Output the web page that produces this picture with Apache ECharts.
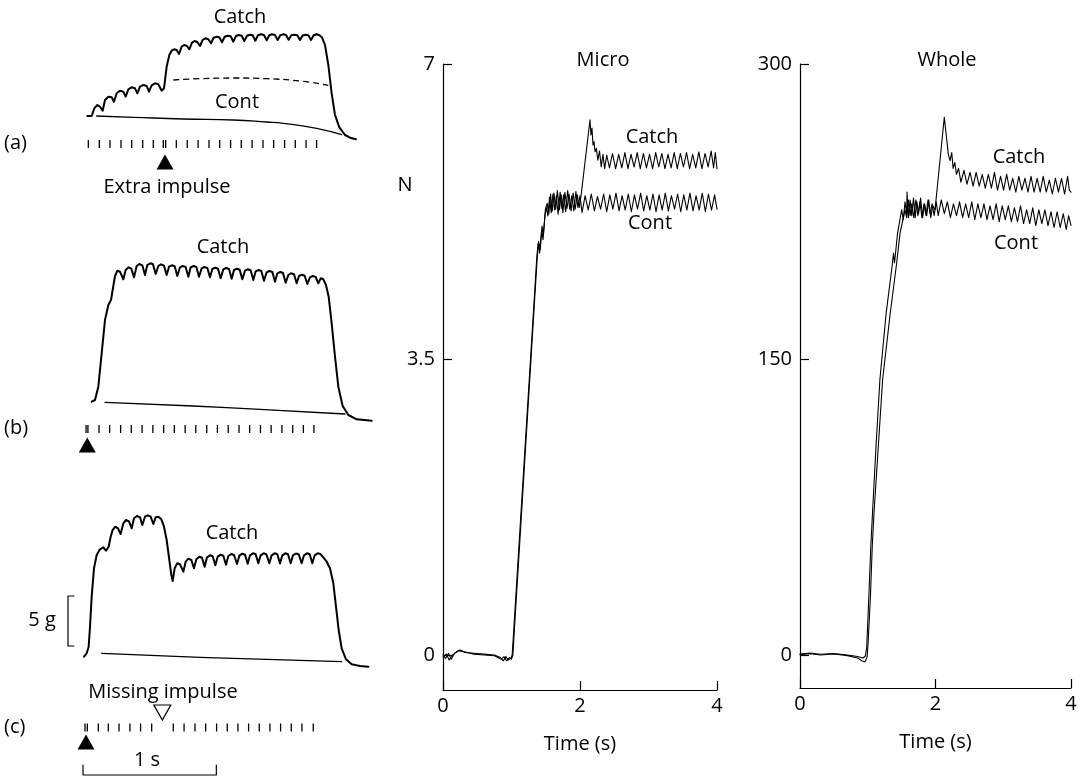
<!DOCTYPE html>
<html>
<head>
<meta charset="utf-8">
<script src="https://cdn.jsdelivr.net/npm/echarts@6/dist/echarts.min.js"></script>
<style>
html,body{margin:0;padding:0;background:#fff}
#chart{width:1088px;height:777px}
</style>
</head>
<body>
<div id="chart"></div>
<script>
// ---------- Left column: schematic twitch-train records (time in ms, force in g) ----------
const catchA = [[-7.5,4.40],[25,4.40],[45,5.17],[67.5,5.50],[87.5,5.33],[107.5,4.93],[125,6.00],[150,6.33],[175,6.27],[192.5,5.83],[212.5,6.67],[237.5,6.93],[262.5,6.83],[280,6.33],[300,7.07],[325,7.27],[350,7.17],[367.5,6.67],[387.5,7.33],[412.5,7.50],[437.5,7.40],[455,6.83],[475,7.47],[500,7.67],[525,7.57],[550,6.93],[567.5,7.17],[587.5,9.33],[607.5,10.50],[625,10.93],[642.5,11.07],[662.5,11.00],[680,10.60],[700,11.33],[720,11.50],[740,11.40],[757.5,11.07],[777.5,11.73],[797.5,11.90],[817.5,11.80],[837.5,11.40],[857.5,12.00],[877.5,12.17],[900,12.07],[920,11.67],[940,12.23],[962.5,12.33],[982.5,12.27],[1002.5,11.77],[1022.5,12.33],[1045,12.43],[1067.5,12.37],[1087.5,11.83],[1107.5,12.40],[1127.5,12.50],[1150,12.43],[1170,11.90],[1190,12.43],[1212.5,12.53],[1232.5,12.47],[1252.5,11.93],[1272.5,12.47],[1295,12.57],[1317.5,12.50],[1337.5,11.97],[1357.5,12.47],[1377.5,12.57],[1400,12.50],[1420,12.00],[1440,12.47],[1462.5,12.57],[1482.5,12.50],[1502.5,12.02],[1522.5,12.47],[1545,12.53],[1567.5,12.47],[1587.5,12.00],[1607.5,12.45],[1627.5,12.53],[1650,12.47],[1670,12.00],[1690,12.47],[1712.5,12.57],[1732.5,12.47],[1752.5,12.27],[1775,11.50],[1800,9.50],[1825,6.67],[1850,4.50],[1882.5,3.27],[1925,2.50],[1962.5,2.23],[2007.5,2.07]];
const baseA = [[637.5,8.00],[837.5,8.13],[1087.5,8.20],[1337.5,8.13],[1587.5,7.90],[1800,7.47]];
const contA = [[62.5,4.40],[337.5,4.27],[712.5,4.10],[1087.5,4.00],[1337.5,3.80],[1462.5,3.67],[1712.5,3.17],[1900,2.53]];
const pulsesA = [0,82.5,162.5,245,325,407.5,487.5,562.5,580,660,742,823,905,985,1067,1147,1228,1310,1390,1472,1552,1633,1712];
const extraA = [575];

const catchB = [[25,2.83],[50,3.00],[75,4.33],[100,7.67],[125,11.00],[150,12.50],[170,13.00],[182.5,14.00],[200,15.40],[217.5,15.93],[237.5,15.83],[262.5,15.07],[280,16.00],[302.5,16.27],[322.5,16.13],[342.5,15.27],[362.5,16.40],[382.5,16.60],[405,16.47],[425,15.50],[442.5,16.50],[465,16.67],[485,16.57],[505,15.60],[525,16.40],[545,16.57],[567.5,16.43],[587.5,15.50],[605,16.33],[627.5,16.47],[647.5,16.37],[667.5,15.40],[687.5,16.27],[707.5,16.40],[730,16.30],[750,15.33],[767.5,16.27],[790,16.40],[810,16.30],[830,15.33],[850,16.17],[870,16.30],[892.5,16.20],[912.5,15.27],[930,16.10],[952.5,16.23],[972.5,16.13],[992.5,15.17],[1012.5,16.07],[1032.5,16.20],[1055,16.10],[1075,15.13],[1092.5,16.00],[1115,16.13],[1135,16.03],[1155,15.07],[1175,15.93],[1195,16.07],[1217.5,15.97],[1237.5,15.00],[1255,15.87],[1277.5,16.00],[1297.5,15.90],[1317.5,14.93],[1337.5,15.77],[1357.5,15.90],[1380,15.80],[1400,14.83],[1417.5,15.67],[1440,15.80],[1460,15.70],[1480,14.73],[1500,15.50],[1520,15.67],[1542.5,15.57],[1562.5,14.67],[1580,15.40],[1602.5,15.53],[1622.5,15.43],[1642.5,14.60],[1662.5,15.27],[1682.5,15.40],[1705,15.30],[1725,14.67],[1742.5,15.17],[1762.5,15.07],[1782.5,14.50],[1802.5,13.33],[1825,10.67],[1850,7.33],[1875,4.33],[1907.5,2.40],[1950,1.50],[2012.5,1.07],[2125,0.93]];
const contB = [[125,2.77],[787.5,2.40],[1287.5,2.07],[1925,1.60]];
const pulsesB = [-17,-3,80,160,242,322,403,484,565,645,726,806,888,968,1049,1130,1210,1291,1371,1452,1533,1613,1692];
const doubletB = [-8];

const catchC = [[-32.5,2.33],[-12.5,2.67],[2.5,3.33],[12.5,5.33],[25,8.33],[42.5,11.17],[62.5,12.50],[87.5,13.07],[112.5,13.27],[132.5,12.93],[152.5,13.33],[167.5,14.33],[182.5,15.00],[202.5,15.33],[222.5,15.17],[242.5,14.60],[262.5,15.67],[282.5,16.00],[305,15.87],[325,15.17],[342.5,16.17],[365,16.40],[387.5,16.27],[405,15.50],[425,16.33],[445,16.47],[467.5,16.33],[487.5,15.60],[505,16.27],[525,16.33],[547.5,16.07],[567.5,15.33],[587.5,14.00],[607.5,12.00],[622.5,10.50],[632.5,9.90],[647.5,11.17],[667.5,11.67],[687.5,11.57],[712.5,10.83],[730,11.83],[750,12.13],[772.5,12.00],[792.5,11.17],[810,12.07],[832.5,12.33],[852.5,12.23],[872.5,11.33],[890,12.27],[912.5,12.47],[932.5,12.37],[952.5,11.47],[970,12.33],[992.5,12.53],[1012.5,12.43],[1032.5,11.53],[1050,12.40],[1072.5,12.60],[1092.5,12.50],[1115,11.60],[1132.5,12.43],[1155,12.63],[1175,12.53],[1195,11.63],[1212.5,12.47],[1235,12.67],[1255,12.57],[1275,11.67],[1292.5,12.47],[1315,12.67],[1335,12.57],[1357.5,11.67],[1375,12.47],[1397.5,12.67],[1417.5,12.57],[1437.5,11.65],[1455,12.47],[1477.5,12.67],[1497.5,12.57],[1517.5,11.67],[1535,12.47],[1557.5,12.65],[1577.5,12.57],[1600,11.67],[1617.5,12.47],[1640,12.67],[1660,12.57],[1680,11.67],[1697.5,12.47],[1720,12.67],[1740,12.60],[1762.5,12.27],[1787.5,11.83],[1812.5,11.17],[1837.5,9.67],[1857.5,7.33],[1877.5,5.00],[1900,3.17],[1932.5,2.07],[1975,1.57],[2037.5,1.40],[2100,1.33]];
const contC = [[100,2.67],[837.5,2.27],[1900,1.83]];
const pulsesC = [-25,-7.5,75,150,230,312,392,475,637,718,800,880,962,1042,1122,1202,1282,1362,1442,1522,1602,1687];
const doubletC = [-17.5];
const missingC = [555];

// calibration bars: 5 g and 1 s
const bar5g = [[-107.5,8.4],[-152.5,8.4],[-152.5,3.4],[-107.5,3.4]];
const bar1s = [[-40,-8.5],[-40,-9.5],[960,-9.5],[960,-8.5]];

// ---------- Right column: measured force (time in s) ----------
const microTicks = [0, 3.5, 7];
const wholeTicks = [0, 150, 300];
const timeTicks = [0, 2, 4];

const microCont = [[0.00,0.00],[0.04,-0.04],[0.08,0.02],[0.12,-0.05],[0.17,0.02],[0.25,0.06],[0.32,0.03],[0.45,0.02],[0.60,0.01],[0.75,0.00],[0.84,-0.03],[0.88,-0.07],[0.92,-0.02],[0.95,-0.06],[0.99,-0.04],[1.01,0.00],[1.37,4.72],[1.39,4.88],[1.41,4.76],[1.44,5.03],[1.46,4.92],[1.49,5.22],[1.51,5.30],[1.53,5.20],[1.555,5.42],[1.58,5.24],[1.605,5.46],[1.63,5.27],[1.655,5.44],[1.68,5.22],[1.71,5.48],[1.735,5.29],[1.76,5.45],[1.79,5.25],[1.82,5.50],[1.85,5.28],[1.88,5.44],[1.91,5.26],[1.94,5.49],[1.97,5.30],[2.00,5.44],[2.03,5.24],[2.075,5.44],[2.12,5.27],[2.165,5.46],[2.21,5.26],[2.255,5.43],[2.30,5.28],[2.345,5.46],[2.39,5.25],[2.435,5.45],[2.48,5.28],[2.525,5.47],[2.57,5.26],[2.615,5.44],[2.66,5.27],[2.705,5.46],[2.75,5.25],[2.795,5.45],[2.84,5.28],[2.885,5.47],[2.93,5.26],[2.975,5.44],[3.02,5.27],[3.065,5.46],[3.11,5.25],[3.155,5.45],[3.20,5.27],[3.245,5.47],[3.29,5.26],[3.335,5.44],[3.38,5.28],[3.425,5.46],[3.47,5.25],[3.515,5.45],[3.56,5.27],[3.605,5.47],[3.65,5.26],[3.695,5.44],[3.74,5.27],[3.785,5.47],[3.83,5.25],[3.875,5.46],[3.92,5.27],[3.965,5.45],[4.00,5.28]];
const microCatch = [[0.00,-0.02],[0.05,0.01],[0.09,-0.06],[0.14,0.00],[0.22,0.05],[0.30,0.04],[0.45,0.01],[0.60,0.00],[0.75,-0.01],[0.85,-0.05],[0.89,-0.02],[0.93,-0.07],[0.97,-0.03],[1.00,-0.05],[1.02,0.00],[1.375,4.70],[1.395,4.90],[1.42,4.80],[1.445,5.08],[1.465,4.97],[1.495,5.28],[1.52,5.35],[1.545,5.22],[1.57,5.46],[1.595,5.26],[1.62,5.47],[1.645,5.28],[1.67,5.50],[1.70,5.27],[1.725,5.45],[1.75,5.24],[1.78,5.48],[1.81,5.29],[1.84,5.46],[1.87,5.26],[1.90,5.47],[1.93,5.28],[1.96,5.45],[1.99,5.30],[2.02,5.47],[2.146,6.34],[2.16,6.16],[2.175,6.24],[2.19,6.04],[2.205,6.08],[2.22,5.96],[2.24,6.00],[2.26,5.86],[2.285,5.97],[2.31,5.78],[2.335,5.93],[2.36,5.76],[2.39,5.92],[2.43,5.77],[2.475,5.94],[2.52,5.76],[2.565,5.93],[2.61,5.77],[2.655,5.95],[2.70,5.76],[2.745,5.93],[2.79,5.78],[2.835,5.95],[2.88,5.76],[2.925,5.94],[2.97,5.77],[3.015,5.93],[3.06,5.76],[3.105,5.95],[3.15,5.78],[3.195,5.94],[3.24,5.76],[3.285,5.93],[3.33,5.77],[3.375,5.95],[3.42,5.76],[3.465,5.94],[3.51,5.78],[3.555,5.95],[3.60,5.76],[3.645,5.93],[3.69,5.77],[3.735,5.96],[3.78,5.76],[3.825,5.94],[3.87,5.78],[3.915,5.97],[3.95,5.77],[3.975,5.95],[4.00,5.76]];

const wholeCatch = [[0.00,0.5],[0.15,1.0],[0.30,0.4],[0.50,0.8],[0.70,0.0],[0.85,-0.8],[0.93,-1.5],[0.965,-0.5],[0.985,4],[1.02,33],[1.045,55],[1.07,72],[1.122,106],[1.18,140],[1.27,173],[1.365,199],[1.38,204],[1.395,199],[1.44,214],[1.50,226],[1.525,221],[1.55,230],[1.575,224],[1.58,235],[1.60,222],[1.625,231],[1.65,223],[1.675,232],[1.70,222],[1.725,230],[1.75,224],[1.78,232],[1.81,222],[1.84,229],[1.87,223],[1.90,231],[1.93,222],[1.96,228],[1.993,226],[2.13,273],[2.19,254],[2.215,251],[2.24,255],[2.26,247],[2.285,250],[2.31,244],[2.34,247],[2.375,240],[2.42,246],[2.465,239],[2.51,245],[2.555,238],[2.60,245],[2.645,238],[2.69,244],[2.735,237],[2.78,244],[2.825,237],[2.87,245],[2.915,236],[2.96,243],[3.005,236],[3.05,244],[3.095,236],[3.14,242],[3.185,235],[3.23,243],[3.275,236],[3.32,242],[3.365,235],[3.41,243],[3.455,235],[3.50,242],[3.545,235],[3.59,243],[3.635,235],[3.68,241],[3.725,234],[3.77,242],[3.815,235],[3.86,242],[3.905,234],[3.95,243],[3.975,236],[4.00,235]];
const wholeCont = [[0.00,0.2],[0.15,0.6],[0.30,0.0],[0.50,0.5],[0.70,-0.3],[0.85,-1.5],[0.92,-3.0],[0.96,-3.5],[0.99,-1.0],[1.005,6],[1.04,30],[1.066,55],[1.092,72],[1.156,106],[1.22,140],[1.33,173],[1.427,199],[1.476,214],[1.55,226],[1.575,222],[1.60,231],[1.625,223],[1.65,229],[1.68,222],[1.71,231],[1.74,223],[1.77,230],[1.80,222],[1.83,229],[1.86,223],[1.89,231],[1.92,224],[1.95,229],[1.98,223],[2.01,230],[2.04,223],[2.085,231],[2.13,224],[2.175,230],[2.22,222],[2.265,229],[2.31,223],[2.355,230],[2.40,222],[2.445,229],[2.49,222],[2.535,230],[2.58,221],[2.625,229],[2.67,222],[2.715,229],[2.76,221],[2.805,228],[2.85,221],[2.895,229],[2.94,220],[2.985,228],[3.03,221],[3.075,228],[3.12,220],[3.165,227],[3.21,220],[3.255,228],[3.30,219],[3.345,226],[3.39,219],[3.435,227],[3.48,218],[3.525,226],[3.57,219],[3.615,226],[3.66,218],[3.705,225],[3.75,217],[3.795,225],[3.84,217],[3.885,224],[3.93,216],[3.965,223],[4.00,218]];

// ---------- layout ----------
const FONT = '"Open Sans", "Noto Sans", "DejaVu Sans", sans-serif';
const INK = '#000';

const leftBox = { left: 55, width: 340 };
const grids = [
  { ...leftBox, top: 10,    height: 150 },  // 0: (a) force
  { ...leftBox, top: 250,   height: 180 },  // 1: (b) force
  { ...leftBox, top: 500,   height: 280 },  // 2: (c) force + calibration
  { ...leftBox, top: 124,   height: 40 },   // 3: (a) stimulus train
  { ...leftBox, top: 409,   height: 40 },   // 4: (b) stimulus train
  { ...leftBox, top: 707.5, height: 40 },   // 5: (c) stimulus train
  { left: 443, top: 64, width: 274, height: 626 },  // 6: Micro
  { left: 800, top: 64, width: 271, height: 624 }   // 7: Whole
].map(g => Object.assign({ containLabel: false, outerBoundsMode: 'none' }, g));

const yRanges = [[0, 15], [0, 18], [-10, 18], [-1, 1], [-1, 1], [-1, 1]];

const hiddenX = i => ({ type: 'value', gridIndex: i, min: -250, max: 2300, show: false });
const hiddenY = i => ({ type: 'value', gridIndex: i, min: yRanges[i][0], max: yRanges[i][1], show: false });

const lineSty = { color: INK, width: 1.2 };
const labelSty = { color: INK, fontSize: 20, fontFamily: FONT };

function timeAxis(i) {
  return {
    type: 'value', gridIndex: i, min: 0, max: 4, interval: 2,
    axisLine: { show: true, onZero: false, lineStyle: lineSty },
    axisTick: { show: true, inside: true, length: 9, lineStyle: lineSty, customValues: timeTicks },
    axisLabel: Object.assign({ margin: 6, customValues: timeTicks }, labelSty),
    splitLine: { show: false },
    name: 'Time (s)', nameLocation: 'middle', nameGap: 44,
    nameTextStyle: labelSty
  };
}
function forceAxis(i, min, max, ticks) {
  return {
    type: 'value', gridIndex: i, min: min, max: max,
    axisLine: { show: true, onZero: false, lineStyle: lineSty },
    axisTick: { show: true, inside: true, length: 9, lineStyle: lineSty, customValues: ticks },
    axisLabel: Object.assign({ margin: 8, customValues: ticks, formatter: v => String(v) }, labelSty),
    splitLine: { show: false }
  };
}

const xAxes = [0, 1, 2, 3, 4, 5].map(hiddenX).concat([timeAxis(6), timeAxis(7)]);
const yAxes = [0, 1, 2, 3, 4, 5].map(hiddenY).concat([
  forceAxis(6, -0.415, 7, microTicks),
  forceAxis(7, -16.75, 300, wholeTicks)
]);

function trace(i, data, width, extra) {
  return Object.assign({
    type: 'line', xAxisIndex: i, yAxisIndex: i, data: data,
    symbol: 'none', showSymbol: false, silent: true, smooth: false,
    lineStyle: { color: INK, width: width, join: 'round', cap: 'round' }
  }, extra || {});
}
function pulses(i, times) {
  return {
    type: 'scatter', xAxisIndex: i, yAxisIndex: i, silent: true,
    symbol: 'rect', symbolSize: [1.3, 8], itemStyle: { color: INK, opacity: 1 },
    data: times.map(t => [t, 0])
  };
}
function marker(i, times, level, open) {
  return {
    type: 'scatter', xAxisIndex: i, yAxisIndex: i, silent: true,
    symbol: 'triangle', symbolSize: [17, 15], symbolRotate: open ? 180 : 0,
    itemStyle: open ? { color: '#fff', borderColor: INK, borderWidth: 1.2, opacity: 1 }
                    : { color: INK, opacity: 1 },
    data: times.map(t => [t, level])
  };
}

const series = [
  trace(0, catchA, 2),
  trace(0, baseA, 1.3, { smooth: true, lineStyle: { color: INK, width: 1.3, type: [6, 4] } }),
  trace(0, contA, 1.3, { smooth: true }),
  pulses(3, pulsesA),
  marker(3, extraA, -0.9, false),

  trace(1, catchB, 2),
  trace(1, contB, 1.3, { smooth: true }),
  pulses(4, pulsesB),
  marker(4, doubletB, -0.8, false),

  trace(2, catchC, 2),
  trace(2, contC, 1.3, { smooth: true }),
  trace(2, bar5g, 1.2),
  trace(2, bar1s, 1.2),
  pulses(5, pulsesC),
  marker(5, doubletC, -0.725, false),
  marker(5, missingC, 0.75, true),

  trace(6, microCont, 1.1),
  trace(6, microCatch, 1.1),
  trace(7, wholeCont, 1.1),
  trace(7, wholeCatch, 1.1)
];

function txt(text, x, y, align) {
  return {
    type: 'text', x: x, y: y, silent: true,
    style: {
      text: text, font: '20px ' + FONT, fill: INK,
      align: align || 'center', textAlign: align || 'center',
      verticalAlign: 'middle', textVerticalAlign: 'middle'
    }
  };
}

const texts = [
  txt('Catch', 240, 17), txt('Cont', 237, 102), txt('(a)', 4, 143, 'left'),
  txt('Extra impulse', 167, 187),
  txt('Catch', 223, 247), txt('(b)', 4, 428, 'left'),
  txt('Catch', 232, 533), txt('5 g', 42, 620), txt('Missing impulse', 163, 692),
  txt('(c)', 4, 727, 'left'), txt('1 s', 147, 760),
  txt('Micro', 603, 60), txt('Whole', 947, 60), txt('N', 405, 185),
  txt('Catch', 652, 137), txt('Cont', 650, 223),
  txt('Catch', 1019, 157), txt('Cont', 1016, 243)
];

const chart = echarts.init(document.getElementById('chart'), null, { renderer: 'canvas' });
chart.setOption({
  backgroundColor: '#fff',
  animation: false,
  grid: grids,
  xAxis: xAxes,
  yAxis: yAxes,
  series: series,
  graphic: { elements: texts }
});
</script>
</body>
</html>
